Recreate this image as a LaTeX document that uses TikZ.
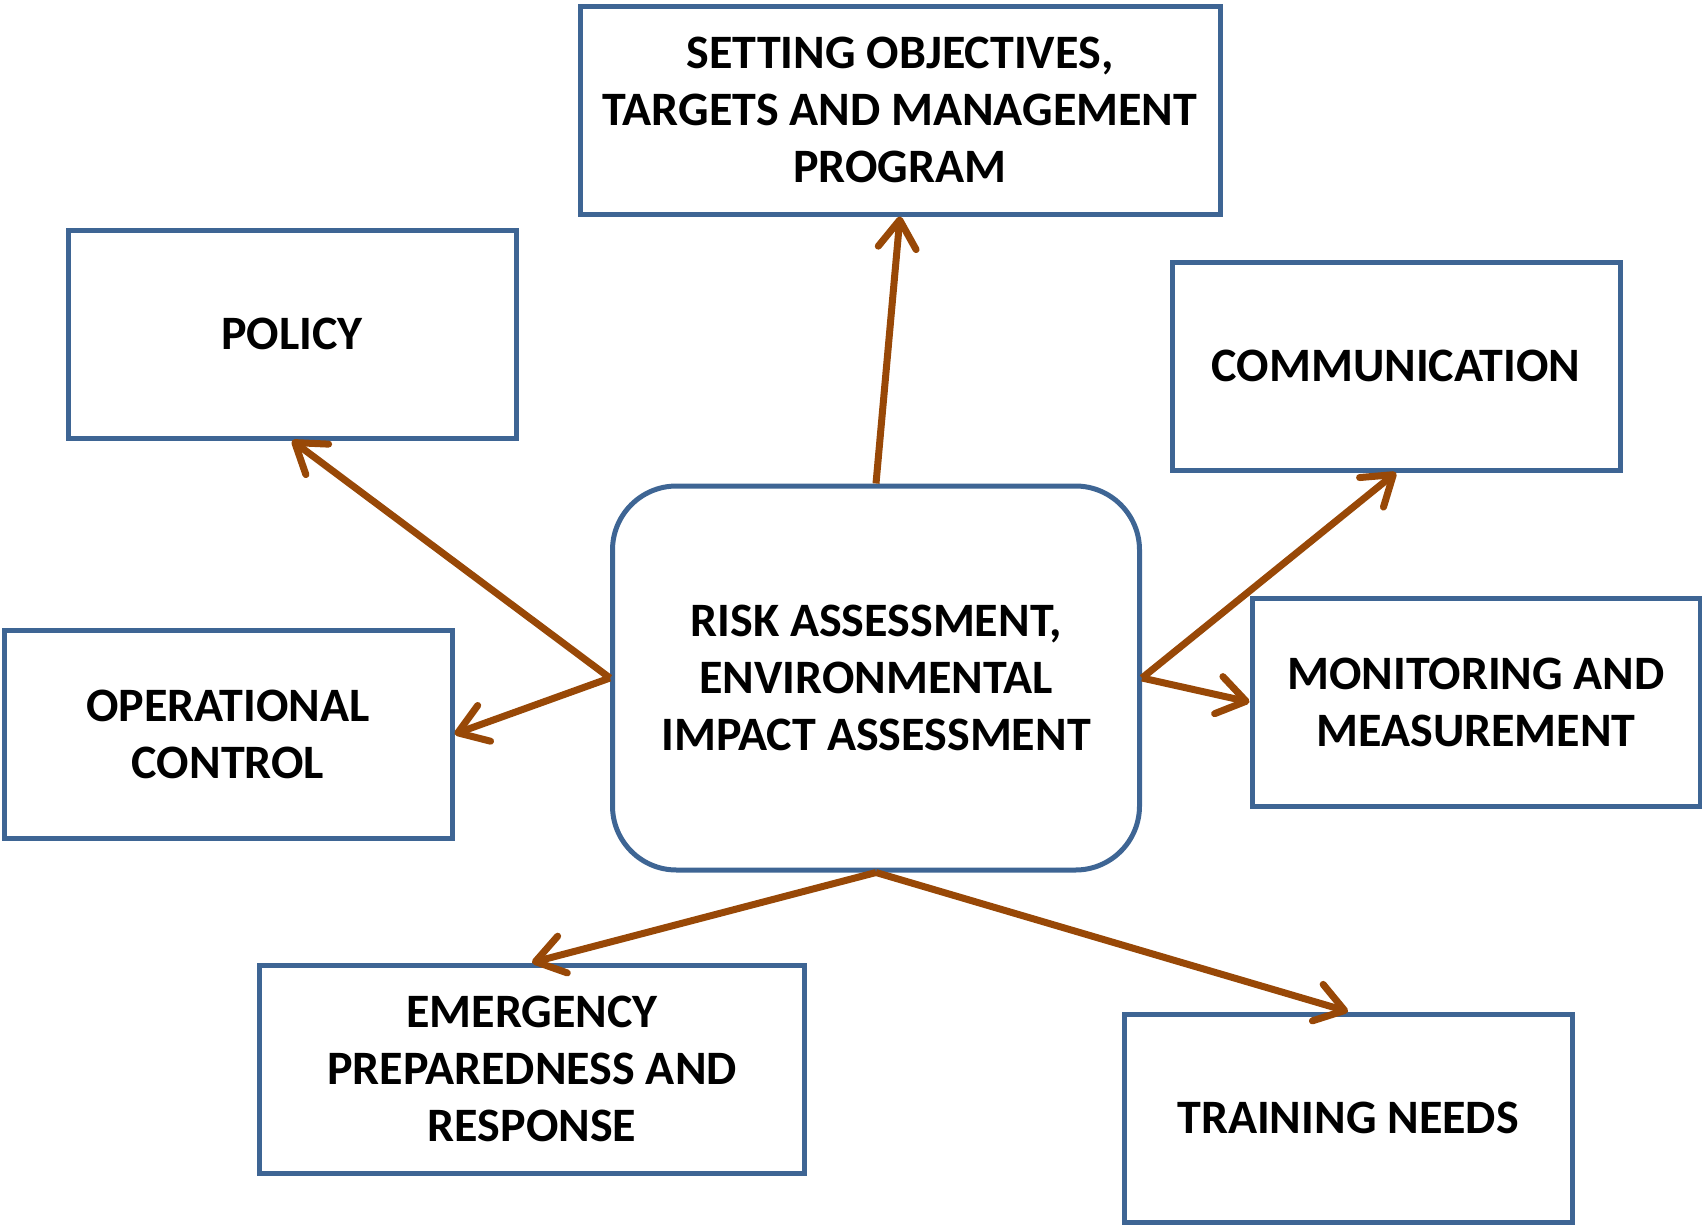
\documentclass[tikz,border=0pt]{standalone}
\usepackage{fontspec}
\setmainfont{Carlito}
\usetikzlibrary{arrows.meta}
\definecolor{boxblue}{HTML}{3E6594}
\definecolor{arrowbrown}{HTML}{984807}
\tikzset{
  Box/.style={draw=boxblue, line width=5pt, rectangle, inner sep=0pt,
    minimum width=448pt, minimum height=208pt, align=center, text=black,
    font=\bfseries\fontsize{48}{57}\selectfont},
  CenterBox/.style={Box, rounded corners=64pt, minimum width=527pt, minimum height=384pt},
  Link/.style={draw=arrowbrown, line width=7pt,
    -{Straight Barb[length=28pt,width=38pt,round]}}
}
\begin{document}
\begin{tikzpicture}[x=1pt,y=-1pt]
\useasboundingbox (0,0) rectangle (1702,1226);
\node[CenterBox] (risk) at (876,678) {RISK ASSESSMENT,\\ENVIRONMENTAL\\IMPACT ASSESSMENT};
\node[Box, minimum width=640pt] (setting) at (900,110) {SETTING OBJECTIVES,\\TARGETS AND MANAGEMENT\\PROGRAM};
\node[Box] (policy) at (292,334) {POLICY};
\node[Box] (communication) at (1396,366) {COMMUNICATION};
\node[Box] (operational) at (228,734) {OPERATIONAL\\CONTROL};
\node[Box] (monitoring) at (1476,702) {MONITORING AND\\MEASUREMENT};
\node[Box, minimum width=545pt] (emergency) at (532,1069) {EMERGENCY\\PREPAREDNESS AND\\RESPONSE};
\node[Box] (training) at (1348,1118) {TRAINING NEEDS};
\draw[Link] (risk.north) -- (setting.south);
\draw[Link] (risk.west) -- (policy.south);
\draw[Link] (risk.west) -- (operational.east);
\draw[Link] (risk.east) -- (communication.south);
\draw[Link] (risk.east) -- (monitoring.west);
\draw[Link] (risk.south) -- (emergency.north);
\draw[Link] (risk.south) -- (training.north);
\end{tikzpicture}
\end{document}
